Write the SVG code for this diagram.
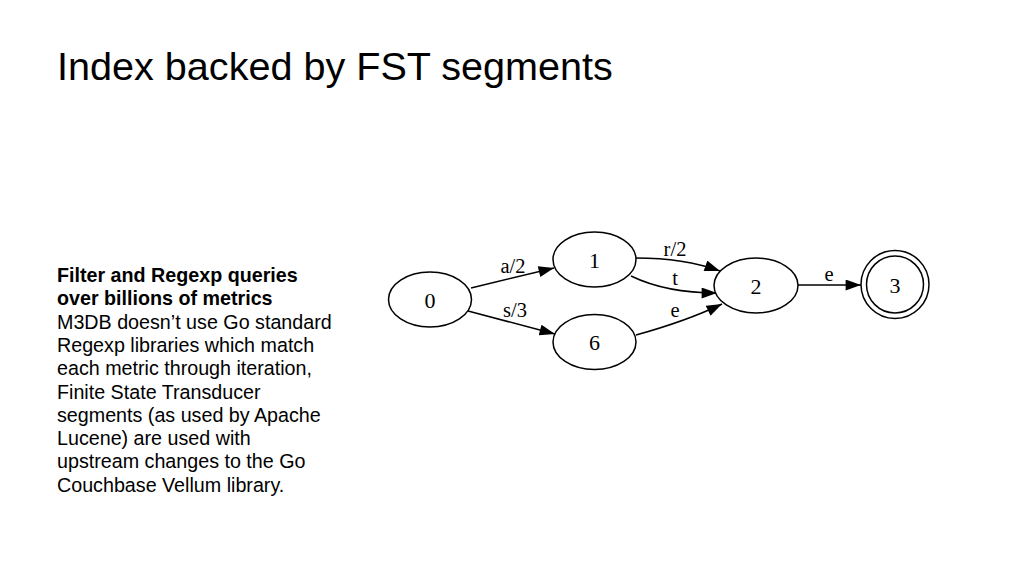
<svg xmlns="http://www.w3.org/2000/svg" width="1024" height="576" viewBox="0 0 1024 576">
<style>
.title{font-family:"Liberation Sans",Arial,sans-serif;font-size:39.6px;fill:#000}
.body{font-family:"Liberation Sans",Arial,sans-serif;font-size:19.7px;fill:#000}
.b{font-weight:bold}
.node{fill:#fff;stroke:#000;stroke-width:1.5}
.nl{font-family:"Liberation Serif","Times New Roman",serif;font-size:22px;fill:#000;text-anchor:middle}
.el{font-family:"Liberation Serif","Times New Roman",serif;font-size:20.5px;fill:#000;text-anchor:middle}
.edge{fill:none;stroke:#000;stroke-width:1.5;marker-end:url(#arrow)}
</style>
<defs>
<marker id="arrow" viewBox="0 0 14 10" refX="14" refY="5" markerWidth="16" markerHeight="11" markerUnits="userSpaceOnUse" orient="auto">
<path d="M0,0 L14,5 L0,10 z" fill="#000"/>
</marker>
</defs>
<rect width="1024" height="576" fill="#fff"/>
<text class="title" x="57" y="80">Index backed by FST segments</text>
<g id="description">
<text class="body b" x="57" y="282">Filter and Regexp queries</text>
<text class="body b" x="57" y="305">over billions of metrics</text>
<text class="body" x="57" y="329">M3DB doesn’t use Go standard</text>
<text class="body" x="57" y="352">Regexp libraries which match</text>
<text class="body" x="57" y="375">each metric through iteration,</text>
<text class="body" x="57" y="399">Finite State Transducer</text>
<text class="body" x="57" y="422">segments (as used by Apache</text>
<text class="body" x="57" y="445">Lucene) are used with</text>
<text class="body" x="57" y="468">upstream changes to the Go</text>
<text class="body" x="57" y="492">Couchbase Vellum library.</text>
</g>
<g id="connectors">
<g id="e0-1"><path class="edge" d="M471,288 L554,268"/><text class="el" x="513" y="273">a/2</text></g>
<g id="e0-6"><path class="edge" d="M468,311 L555,334"/><text class="el" x="515" y="317">s/3</text></g>
<g id="e1-2r"><path class="edge" d="M636,258 C665,258 695,262 720,271"/><text class="el" x="675" y="256">r/2</text></g>
<g id="e1-2t"><path class="edge" d="M631,276 C660,290 690,293 717,293"/><text class="el" x="675" y="285">t</text></g>
<g id="e6-2"><path class="edge" d="M636,335 C665,327 695,317 722,304"/><text class="el" x="675" y="317">e</text></g>
<g id="e2-3"><path class="edge" d="M798,285 L861,285"/><text class="el" x="829" y="281">e</text></g>
</g>
<g id="n0"><ellipse class="node" cx="430" cy="299.5" rx="41.5" ry="27.5"/><text class="nl" x="430" y="307.5">0</text></g>
<g id="n1"><ellipse class="node" cx="594.5" cy="259.5" rx="41.5" ry="27.5"/><text class="nl" x="594.5" y="267.5">1</text></g>
<g id="n6"><ellipse class="node" cx="594.5" cy="342" rx="41.5" ry="27.5"/><text class="nl" x="594.5" y="350">6</text></g>
<g id="n2"><ellipse class="node" cx="756" cy="285.5" rx="42" ry="27.5"/><text class="nl" x="756" y="293.5">2</text></g>
<g id="n3"><circle class="node" cx="895" cy="284.5" r="34"/><circle class="node" cx="895" cy="284.5" r="28.5"/><text class="nl" x="895" y="292.5">3</text></g>
</svg>
